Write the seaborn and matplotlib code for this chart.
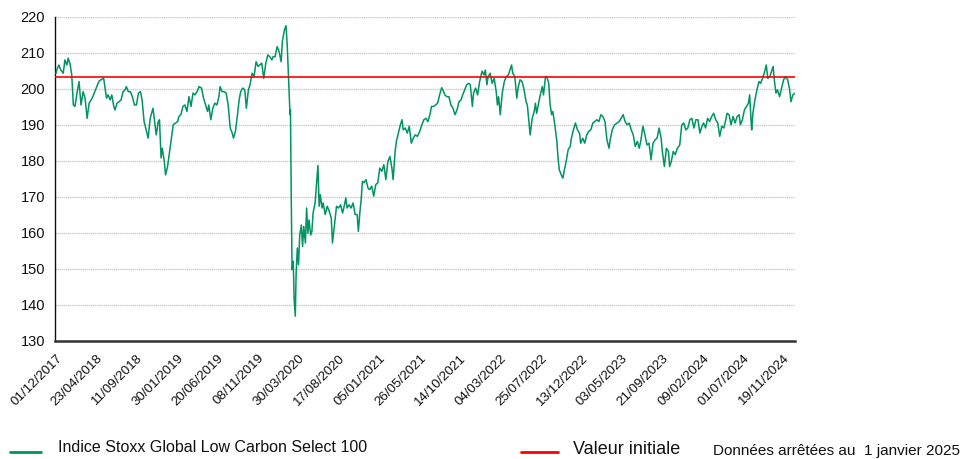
import numpy as np
import pandas as pd
import matplotlib
matplotlib.use("Agg")
import matplotlib.pyplot as plt
from matplotlib.lines import Line2D
import seaborn as sns

# ---------------- data ----------------
# trading-session number since 01/12/2017
session = [
    0, 2, 7, 12, 18, 22, 27, 30, 35, 39, 43, 47, 52, 57, 62, 67, 72, 77, 82, 87,
    91, 96, 101, 106, 111, 118, 121, 125, 129, 134, 138, 143, 146, 151, 156, 161, 166, 171, 174, 179,
    184, 189, 194, 199, 204, 209, 213, 218, 223, 228, 233, 240, 245, 248, 253, 256, 260, 263, 268, 271,
    276, 281, 286, 290, 296, 301, 304, 309, 314, 319, 324, 329, 334, 339, 344, 349, 354, 360, 365, 370,
    375, 378, 383, 388, 393, 398, 403, 406, 411, 416, 421, 426, 431, 436, 439, 444, 449, 453, 457, 462,
    467, 471, 476, 480, 485, 490, 495, 500, 504, 509, 514, 519, 524, 529, 534, 537, 542, 547, 552, 557,
    560, 565, 569, 572, 575, 579, 580, 582, 584, 587, 589, 592, 594, 597, 600, 603, 607, 610, 613, 617,
    620, 623, 626, 630, 633, 636, 641, 645, 648, 651, 654, 658, 661, 666, 671, 676, 681, 684, 689, 694,
    699, 704, 709, 712, 717, 720, 725, 730, 735, 740, 745, 748, 752, 755, 758, 762, 767, 772, 776, 781,
    786, 791, 796, 801, 806, 811, 816, 821, 826, 831, 834, 839, 842, 847, 852, 856, 859, 864, 869, 874,
    879, 884, 889, 894, 900, 905, 910, 915, 920, 925, 929, 934, 939, 944, 949, 954, 959, 962, 967, 972,
    977, 982, 987, 992, 997, 1002, 1006, 1011, 1016, 1021, 1025, 1030, 1033, 1038, 1043, 1048, 1051, 1054, 1059, 1062,
    1066, 1069, 1074, 1079, 1084, 1089, 1092, 1095, 1099, 1104, 1109, 1114, 1119, 1123, 1127, 1130, 1135, 1140, 1143, 1148,
    1153, 1158, 1163, 1166, 1170, 1173, 1178, 1183, 1186, 1189, 1193, 1198, 1203, 1206, 1211, 1214, 1219, 1222, 1226, 1229,
    1234, 1239, 1242, 1245, 1250, 1254, 1257, 1262, 1267, 1272, 1275, 1280, 1285, 1290, 1295, 1298, 1303, 1308, 1313, 1318,
    1323, 1328, 1333, 1338, 1343, 1348, 1353, 1358, 1363, 1368, 1371, 1376, 1382, 1388, 1393, 1398, 1403, 1408, 1413, 1418,
    1423, 1428, 1433, 1438, 1443, 1447, 1452, 1457, 1462, 1467, 1472, 1477, 1482, 1487, 1492, 1497, 1500, 1505, 1510, 1515,
    1518, 1522, 1527, 1532, 1537, 1543, 1548, 1553, 1558, 1563, 1568, 1573, 1578, 1583, 1588, 1593, 1598, 1602, 1607, 1612,
    1617, 1622, 1627, 1632, 1637, 1642, 1647, 1652, 1657, 1660, 1665, 1670, 1675, 1680, 1685, 1690, 1693, 1698, 1703, 1708,
    1713, 1716, 1720, 1721, 1724, 1729, 1734, 1739, 1743, 1748, 1752, 1757, 1761, 1766, 1771, 1774, 1777, 1781, 1785, 1790,
    1795, 1800, 1805, 1810, 1815, 1818, 1823, 1828,
]

index_level = [
    204.3, 205.2, 206.6, 205.2, 204.3, 208.0, 206.6, 208.5, 206.8, 203.8, 195.5, 195.1, 198.8, 202.0, 195.5, 199.2, 197.4, 191.8, 196.0, 196.9,
    197.8, 199.2, 200.6, 202.0, 202.5, 202.9, 200.6, 197.4, 198.3, 196.9, 198.3, 195.1, 194.1, 196.0, 196.4, 196.9, 199.2, 199.7, 200.6, 199.2,
    199.2, 197.8, 195.5, 195.5, 198.8, 199.2, 196.9, 190.9, 188.6, 186.3, 191.8, 194.6, 190.0, 187.2, 190.9, 191.4, 180.8, 183.5, 179.8, 176.1,
    178.4, 182.6, 186.8, 190.0, 190.5, 190.9, 192.3, 192.8, 195.1, 195.5, 193.7, 197.8, 195.1, 198.8, 198.3, 199.2, 200.6, 200.2, 197.4, 195.5,
    193.7, 195.5, 191.4, 194.6, 196.0, 195.5, 197.8, 200.6, 199.2, 199.2, 198.8, 195.5, 189.1, 187.7, 186.3, 188.2, 192.8, 196.9, 199.2, 200.2,
    199.7, 194.6, 199.7, 201.1, 204.3, 203.4, 207.5, 206.2, 206.6, 207.1, 202.9, 207.1, 209.4, 208.9, 208.0, 208.9, 208.9, 211.7, 210.3, 207.5,
    213.1, 216.3, 217.5, 212.2, 203.8, 192.8, 194.1, 169.7, 149.8, 152.1, 142.0, 136.9, 148.5, 155.8, 151.2, 159.4, 162.2, 156.2, 161.8, 157.2,
    166.9, 159.9, 163.6, 159.4, 160.4, 165.5, 168.3, 174.1, 178.7, 167.4, 170.6, 166.9, 168.3, 165.1, 167.4, 166.0, 164.1, 157.2, 162.3, 167.4,
    166.9, 167.8, 165.5, 166.9, 169.7, 166.9, 167.8, 166.9, 168.3, 165.1, 165.1, 160.4, 166.0, 169.2, 174.3, 173.9, 174.8, 172.4, 172.0, 173.0,
    170.2, 173.4, 173.9, 178.0, 177.1, 178.9, 174.8, 179.8, 181.2, 178.0, 174.8, 182.6, 185.4, 187.7, 190.0, 191.4, 188.6, 189.1, 187.7, 189.6,
    184.9, 186.3, 187.2, 186.8, 188.2, 190.0, 191.4, 191.8, 190.9, 192.8, 195.1, 195.1, 195.5, 196.0, 198.3, 200.3, 199.2, 198.3, 197.8, 197.8,
    195.5, 194.6, 192.8, 194.1, 196.4, 196.9, 198.3, 199.7, 201.1, 201.5, 201.1, 195.1, 198.8, 200.2, 198.3, 202.0, 203.4, 204.9, 203.8, 205.2,
    201.1, 203.4, 204.3, 201.5, 202.9, 199.2, 195.5, 197.8, 192.8, 198.8, 202.0, 203.4, 203.8, 205.2, 206.6, 204.3, 203.4, 197.4, 200.2, 202.5,
    202.0, 199.7, 196.4, 195.5, 190.9, 187.2, 191.8, 193.7, 196.0, 193.2, 195.5, 198.3, 200.6, 198.3, 203.4, 203.4, 201.5, 196.0, 192.8, 193.7,
    190.0, 185.4, 180.8, 177.5, 176.1, 175.2, 177.1, 179.8, 183.1, 184.0, 186.3, 188.6, 190.5, 188.6, 187.7, 184.9, 186.3, 184.9, 187.2, 188.2,
    188.6, 190.5, 190.9, 191.4, 190.9, 192.8, 192.3, 190.9, 185.8, 183.5, 185.8, 188.6, 190.0, 190.5, 190.9, 191.8, 192.8, 190.9, 190.0, 190.5,
    188.6, 187.2, 184.0, 185.4, 183.5, 185.8, 189.6, 187.2, 184.4, 184.9, 180.3, 184.9, 185.8, 186.3, 189.1, 186.3, 182.6, 178.4, 183.5, 182.6,
    178.4, 179.8, 182.6, 181.7, 183.5, 184.4, 190.0, 190.5, 188.6, 189.1, 191.4, 191.8, 189.1, 191.4, 191.4, 187.7, 189.6, 190.5, 189.1, 191.8,
    190.9, 192.3, 193.2, 191.4, 190.5, 186.8, 189.6, 189.1, 191.4, 193.2, 192.8, 190.0, 192.3, 190.5, 192.3, 192.8, 190.0, 191.4, 194.1, 195.1,
    196.0, 198.3, 190.0, 188.6, 193.2, 196.9, 199.7, 202.0, 201.5, 202.9, 204.3, 206.6, 202.9, 203.4, 205.2, 206.2, 202.5, 198.8, 199.7, 197.8,
    200.2, 202.5, 203.4, 202.5, 199.7, 196.4, 198.3, 198.8,
]

initial_value = 203.4

tick_sessions = list(range(0, 1801, 100))
tick_labels = [
    "01/12/2017", "23/04/2018", "11/09/2018", "30/01/2019", "20/06/2019",
    "08/11/2019", "30/03/2020", "17/08/2020", "05/01/2021", "26/05/2021",
    "14/10/2021", "04/03/2022", "25/07/2022", "13/12/2022", "03/05/2023",
    "21/09/2023", "09/02/2024", "01/07/2024", "19/11/2024",
]
y_ticks = list(range(130, 221, 10))

series_label = "Indice Stoxx Global Low Carbon Select 100"
ref_label = "Valeur initiale"
note = "Données arrêtées au  1 janvier 2025"

GREEN = "#009460"
RED = "#ff0000"

# ---------------- figure ----------------
sns.set_style("white")
plt.rcParams["font.family"] = ["Liberation Sans", "DejaVu Sans"]

fig = plt.figure(figsize=(9.61, 4.59), dpi=100)
ax = fig.add_axes([0.0572, 0.2571, 0.770, 0.7065])

df = pd.DataFrame({"session": session, "level": index_level})
sns.lineplot(data=df, x="session", y="level", ax=ax, color=GREEN,
             linewidth=1.1, zorder=3)
ax.axhline(initial_value, color=RED, linewidth=1.2, zorder=4)

ax.set_xlim(-2.5, 1828)
ax.set_ylim(130, 220)
ax.set_yticks(y_ticks)
ax.set_xticks(tick_sessions)
ax.set_xticklabels(tick_labels, rotation=45, ha="right",
                   rotation_mode="anchor", fontsize=9.6, color="#111111")
ax.tick_params(axis="y", labelsize=10.5, length=0, pad=7, labelcolor="#111111")
ax.tick_params(axis="x", length=0, pad=8)
ax.set_xlabel("")
ax.set_ylabel("")

ax.grid(axis="y", color="#cccccc", linewidth=1.0, linestyle=(0, (1, 0.5)))
ax.grid(axis="x", visible=False)
ax.set_axisbelow(True)

for s in ["top", "right"]:
    ax.spines[s].set_visible(False)
ax.spines["left"].set_color("#111111")
ax.spines["left"].set_linewidth(1.0)
ax.spines["bottom"].set_color("#333333")
ax.spines["bottom"].set_linewidth(1.8)

# ---------------- legend / footnote ----------------
W, H = 961, 459
def fx(px):
    return px / W
def fy(py):
    return 1 - py / H

fig.add_artist(Line2D([fx(10), fx(41)], [fy(452), fy(452)], color=GREEN,
                      linewidth=2.0, transform=fig.transFigure))
fig.text(fx(58), fy(448), series_label, fontsize=11.5, va="center",
         ha="left", color="#111111")
fig.add_artist(Line2D([fx(521), fx(558)], [fy(452), fy(452)], color=RED,
                      linewidth=2.0, transform=fig.transFigure))
fig.text(fx(573), fy(449), ref_label, fontsize=13, va="center",
         ha="left", color="#111111")
fig.text(fx(713), fy(451), note, fontsize=11, va="center",
         ha="left", color="#111111")

fig.savefig("out.png", dpi=100)
